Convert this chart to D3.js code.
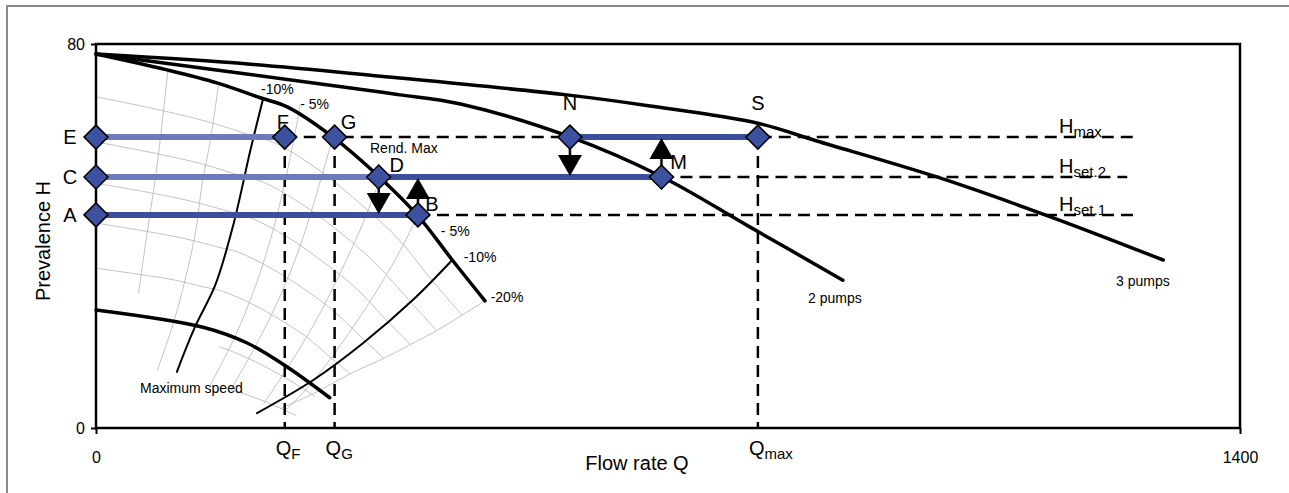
<!DOCTYPE html>
<html>
<head>
<meta charset="utf-8">
<script src="https://cdn.jsdelivr.net/npm/d3@7"></script>
<style>
  body { margin: 0; background: #fff; }
  text { font-family: "Liberation Sans", Arial, sans-serif; }
</style>
</head>
<body>
<script>
// pump curves [Q, H]
var pump1 = [[0,77.9],[87,74.6],[148,71.9],[201,68.8],[234,66.9],[290,60.6],[348,52.1],[394,44.2],[436,35],[476,26.5]];
var pump2 = [[0,77.9],[348,70],[372,69.4],[446,67.5],[581,60.6],[693,52.3],[800,41.9],[914,30.8]];
var pump3 = [[0,77.9],[189,75.8],[348,73.3],[576,69.4],[678,67.1],[810,63.5],[882,59.8],[1029,52.3],[1168,44],[1306,35]];
var maxSpeed = [[0,24.6],[131,21],[185,17.7],[234,12.7],[286,6.3]];
var eff10a = [[204,68.3],[189,57.9],[168,42.3],[146,29.8],[121,21],[99,11.7]];
var eff10b = [[436,35],[388,26.7],[327,17.7],[266,10],[197,3.1]];
// grey speed curves (reduced speeds)
var speedCurves = [
  [[0,69],[82,66.1],[139,63.7],[189,61],[220,59.3],[273,53.7],[327,46.2],[371,39.2],[410,31],[448,23.5]],
  [[0,59.6],[76,57.1],[130,55],[176,52.6],[205,51.2],[254,46.4],[305,39.9],[345,33.8],[382,26.8],[417,20.3]],
  [[0,51],[70,48.9],[120,47.1],[163,45.1],[189,43.8],[235,39.7],[282,34.1],[319,29],[353,22.9],[385,17.4]],
  [[0,42.7],[64,40.9],[110,39.4],[149,37.7],[173,36.7],[215,33.2],[258,28.6],[292,24.2],[323,19.2],[352,14.5]],
  [[0,33.3],[57,31.9],[97,30.8],[131,29.4],[153,28.6],[190,25.9],[228,22.3],[258,18.9],[285,15],[311,11.3]],
  [[150,17],[180,15],[210,12.5],[240,9.6],[268,6.6]],
  [[165,8],[195,6.3],[222,4.4],[245,2.6]]
];
// grey cross lines
var crossLines = [
  [[88,74.6],[75,55],[62,40],[52,28]],
  [[150,71.6],[140,60],[130,51],[122,41],[112,33],[95,22],[75,12]],
  [[250,67.2],[236,55],[218,42],[196,30],[170,19],[140,9]],
  [[290,60.6],[272,50],[250,38],[224,27],[195,17],[165,8]],
  [[348,52.1],[325,42],[298,32],[268,22],[236,13],[205,5]],
  [[394,44.2],[366,35],[334,26],[298,17],[262,9],[228,3]],
  [[476,26.5],[448,23.5],[417,20.3],[385,17.4],[352,14.5],[311,11.3],[270,7.5],[225,4]]
];
// operating points
var points = [
  {id:"E", q:0, h:60.6}, {id:"C", q:0, h:52.3}, {id:"A", q:0, h:44.4},
  {id:"F", q:231, h:60.6}, {id:"G", q:292, h:60.6}, {id:"D", q:346, h:52.3},
  {id:"B", q:394, h:44.4}, {id:"N", q:580, h:60.6}, {id:"M", q:692, h:52.3},
  {id:"S", q:810, h:60.6}
];
var blueLines = [
  {from:0, to:231, h:60.6, c:"#6d7abb"},
  {from:0, to:346, h:52.3, c:"#6d7abb"},
  {from:346, to:692, h:52.3, c:"#3c4f9d"},
  {from:0, to:394, h:44.4, c:"#3c4f9d"},
  {from:580, to:810, h:60.6, c:"#3c4f9d"}
];
var dashH = [
  {from:231, to:1272, h:60.6, label:"max"},
  {from:692, to:1262, h:52.3, label:"set.2"},
  {from:394, to:1272, h:44.4, label:"set.1"}
];
var dashV = [{q:231, label:"F"}, {q:292, label:"G"}, {q:810, label:"max"}];
var arrows = [
  {q:346, from:52.3, to:44.6}, {q:394, from:44.4, to:52.1},
  {q:580, from:60.6, to:52.5}, {q:692, from:52.3, to:60.4}
];
var pctLabels = [
  {q:202, h:69.5, t:"-10%"}, {q:250, h:66.5, t:"- 5%"},
  {q:422, h:40, t:"- 5%"}, {q:450, h:34.5, t:"-10%"}, {q:483, h:26.3, t:"-20%"}
];

var W = 1289, H = 493;
var svg = d3.select("body").append("svg").attr("width", W).attr("height", H);

svg.append("rect").attr("x", 7).attr("y", 6).attr("width", W).attr("height", H)
  .attr("fill", "none").attr("stroke", "#8a8a8a").attr("stroke-width", 2);

var x = d3.scaleLinear().domain([0, 1400]).range([96, 1240]);
var y = d3.scaleLinear().domain([0, 80]).range([428, 44]);

var line = d3.line().x(function(d){ return x(d[0]); }).y(function(d){ return y(d[1]); })
  .curve(d3.curveCatmullRom);

// grey mesh
speedCurves.concat(crossLines).forEach(function(c){
  svg.append("path").attr("d", line(c)).attr("fill", "none")
    .attr("stroke", "#b3b3b3").attr("stroke-width", 0.8);
});

// frame
svg.append("rect").attr("x", x(0)).attr("y", y(80)).attr("width", x(1400) - x(0)).attr("height", y(0) - y(80))
  .attr("fill", "none").attr("stroke", "#000").attr("stroke-width", 2.5);

var yAxis = d3.axisLeft(y).tickValues([0, 80]).tickSize(5).tickPadding(6);
var gy = svg.append("g").attr("transform", "translate(" + x(0) + ",0)").call(yAxis);
gy.select(".domain").remove();
gy.selectAll("line").attr("stroke-width", 2);
gy.selectAll("text").attr("font-size", 16).attr("font-family", "Liberation Sans, Arial");

var xAxis = d3.axisBottom(x).tickValues([0, 1400]).tickFormat(d3.format("d")).tickSize(6).tickPadding(18);
var gx = svg.append("g").attr("transform", "translate(0," + y(0) + ")").call(xAxis);
gx.select(".domain").remove();
gx.selectAll("line").attr("stroke-width", 2);
gx.selectAll("text").attr("font-size", 16).attr("font-family", "Liberation Sans, Arial");

// dashed guides
dashH.forEach(function(d){
  svg.append("line").attr("x1", x(d.from)).attr("x2", x(d.to)).attr("y1", y(d.h)).attr("y2", y(d.h))
    .attr("stroke", "#000").attr("stroke-width", 2.5).attr("stroke-dasharray", "12,7");
});
dashV.forEach(function(d){
  svg.append("line").attr("x1", x(d.q)).attr("x2", x(d.q)).attr("y1", y(60.6)).attr("y2", y(0))
    .attr("stroke", "#000").attr("stroke-width", 2.5).attr("stroke-dasharray", "12,7");
});

// black curves
[[pump1, 3.5], [pump2, 3.5], [pump3, 3.5], [maxSpeed, 3.5], [eff10a, 2], [eff10b, 2]].forEach(function(c){
  svg.append("path").attr("d", line(c[0])).attr("fill", "none")
    .attr("stroke", "#000").attr("stroke-width", c[1]).attr("stroke-linecap", "round");
});

// blue operating lines
blueLines.forEach(function(d){
  svg.append("line").attr("x1", x(d.from)).attr("x2", x(d.to)).attr("y1", y(d.h)).attr("y2", y(d.h))
    .attr("stroke", d.c).attr("stroke-width", 6);
});

// arrows
arrows.forEach(function(d){
  var y0 = y(d.from), y1 = y(d.to), dir = y1 > y0 ? 1 : -1, cx = x(d.q);
  var base = y1 - dir * 21;
  svg.append("line").attr("x1", cx).attr("x2", cx).attr("y1", y0).attr("y2", base)
    .attr("stroke", "#000").attr("stroke-width", 2.5);
  svg.append("path").attr("d", "M" + (cx - 12) + "," + base + "L" + (cx + 12) + "," + base + "L" + cx + "," + y1 + "Z")
    .attr("fill", "#000");
});

// diamonds
svg.selectAll(".pt").data(points).enter().append("path")
  .attr("d", function(d){
    var cx = x(d.q), cy = y(d.h), r = 12;
    return "M" + (cx - r) + "," + cy + "L" + cx + "," + (cy - r) + "L" + (cx + r) + "," + cy + "L" + cx + "," + (cy + r) + "Z";
  })
  .attr("fill", "#3c52a0").attr("stroke", "#000").attr("stroke-width", 1.5);

// point labels
var labelPos = {E:[-26,7], C:[-26,7], A:[-26,7], F:[-2,-8], G:[14,-8], D:[18,-5], B:[14,-4], N:[0,-27], S:[0,-27], M:[17,-8]};
svg.selectAll(".lbl").data(points).enter().append("text")
  .attr("x", function(d){ return x(d.q) + labelPos[d.id][0]; })
  .attr("y", function(d){ return y(d.h) + labelPos[d.id][1]; })
  .attr("text-anchor", "middle").attr("font-size", 20).attr("font-family", "Liberation Sans, Arial")
  .text(function(d){ return d.id; });

// H labels
dashH.forEach(function(d){
  var t = svg.append("text").attr("x", 1059).attr("y", y(d.h) - 4).attr("font-size", 20);
  t.append("tspan").text("H");
  t.append("tspan").attr("font-size", 15).attr("dy", 4).text(d.label);
});
dashV.forEach(function(d){
  var t = svg.append("text").attr("x", x(d.q) - 9).attr("y", 455).attr("font-size", 20);
  t.append("tspan").text("Q");
  t.append("tspan").attr("font-size", 15).attr("dy", 4).text(d.label);
});

pctLabels.forEach(function(d){
  svg.append("text").attr("x", x(d.q)).attr("y", y(d.h)).attr("font-size", 14).text(d.t);
});

svg.append("text").attr("x", 370).attr("y", 153).attr("font-size", 14).text("Rend. Max");
svg.append("text").attr("x", 140).attr("y", 393).attr("font-size", 14).text("Maximum speed");
svg.append("text").attr("x", 808).attr("y", 303).attr("font-size", 14).text("2 pumps");
svg.append("text").attr("x", 1116).attr("y", 286).attr("font-size", 14).text("3 pumps");

svg.append("text").attr("x", 637).attr("y", 470).attr("text-anchor", "middle").attr("font-size", 20).text("Flow rate Q");
svg.append("text").attr("transform", "translate(50,241) rotate(-90)").attr("text-anchor", "middle")
  .attr("font-size", 20).text("Prevalence H");
</script>
</body>
</html>
